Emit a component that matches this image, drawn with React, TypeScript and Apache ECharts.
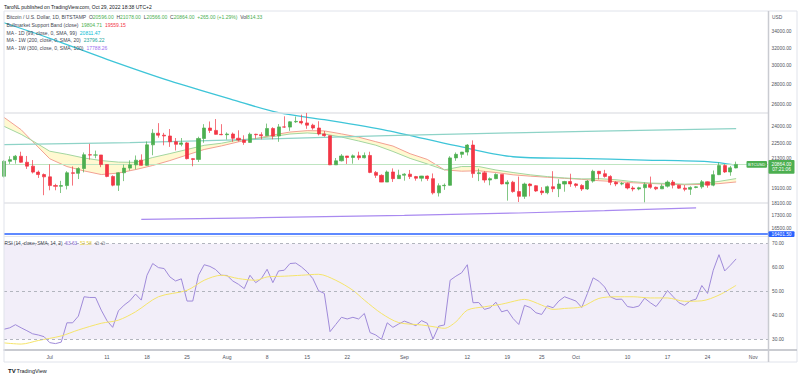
import React, { useEffect, useRef } from 'react';
import * as echarts from 'echarts';

// ---------------- data (day index 0 = Jun 23, 2022) ----------------
const opens = [19970,21100,21230,21500,21030,20730,20280,20100,19930,19300,19250,19300,20230,20190,20550,21620,21590,21600,20850,19960,19330,20230,20580,20830,21190,20790,22420,23400,23230,23160,22680,22460,22580,21310,21250,22950,23850,23640,23300,23270,23330,22970,22820,22620,23310,23270,23180,23810,23160,23950,23930,24400,24440,24300,24100,23850,23340,23190,20830,21140,21520,21400,21530,21380,21560,20260,20040,19550,20290,19800,20050,20130,19950,19830,19990,19800,18790,19290,19320,21370,21650,21830,22400,20170,20230,19700,19800,20110,19420,19540,18880,18550,19410,19290,18920,18800,19220,19080,19410,19590,19420,19310,19060,19620,20340,20160,19960,19530,19420,19440,19130,19060,19150,19380,19180,19070,19260,19550,19330,19120,19040,19170,19210,19570,19330,20090,20770,20290,20596];
const highs = [21200,21500,21600,21860,21520,21200,20400,20180,20870,19430,19640,20350,20710,20650,21800,22500,21950,21600,20860,20040,20270,20850,21180,21560,21650,22700,23750,24280,23430,23760,22990,22990,22650,21350,23100,24190,24430,24650,24190,23470,23460,23650,23220,23450,23350,23480,24240,23920,24200,24900,24450,24880,25050,25210,24230,24450,23590,23200,21360,21670,21520,21640,21860,21800,21860,20360,20120,20400,20560,20460,20200,20440,20000,20000,20030,20180,19460,19450,21500,21800,21840,22480,22790,20540,20350,19890,20190,20110,19690,19640,19950,19510,19460,19330,19190,19300,20350,19760,19640,20160,19480,19400,19700,20460,20370,20450,20050,19610,19550,19520,19260,19220,19520,19950,19230,19400,19670,19700,19360,19340,19250,19250,19700,19600,20400,21020,20880,20750,21078];
const lows = [19880,20900,20920,20990,20520,20180,19850,18630,18970,18970,18780,19030,19300,19770,20260,21230,21340,20650,19900,19250,18920,19620,20400,20480,20760,20760,21580,23020,22380,22250,21960,22300,21250,20720,21050,22590,23420,23440,23230,22860,22670,22690,22420,22600,22930,22880,23160,22880,22670,23860,23600,24300,24160,23780,23700,23210,23100,20810,20830,21090,20900,20920,21200,21330,20200,19850,19600,19550,19560,19800,19650,19770,19650,19600,19640,18680,18540,19000,19300,21140,21370,21560,19860,19620,19510,19320,19760,19380,18260,18800,18170,18380,18550,18860,18640,18690,18840,18500,18870,19210,19160,18920,19000,19510,19740,19870,19330,19260,19320,19030,18900,18970,18150,19080,18980,19060,19160,19100,19070,18900,18650,19110,19080,19150,19250,20060,20220,20010,20566];
const closes = [21100,21230,21500,21030,20730,20280,20100,19930,19300,19250,19300,20230,20190,20550,21620,21590,21600,20850,19960,19330,20230,20580,20830,21190,20790,22420,23400,23230,23160,22680,22460,22580,21310,21250,22950,23850,23640,23300,23270,23330,22970,22820,22620,23310,23270,23180,23810,23160,23950,23930,24400,24440,24300,24100,23850,23340,23190,20830,21140,21520,21400,21530,21380,21560,20260,20040,19550,20290,19800,20050,20130,19950,19830,19990,19800,18790,19290,19320,21370,21650,21830,22400,20170,20230,19700,19800,20110,19420,19540,18880,18550,19410,19290,18920,18800,19220,19080,19410,19590,19420,19310,19060,19620,20340,20160,19960,19530,19420,19440,19130,19060,19150,19380,19180,19070,19260,19550,19330,19120,19040,19170,19210,19570,19330,20090,20770,20290,20600,20864];

const xTickDays = [8, 18, 25, 32, 39, 46, 53, 60, 70, 81, 88, 94, 100, 109, 116, 123, 131];
const xTickLabels = ['Jul', '11', '18', '25', 'Aug', '8', '15', '22', 'Sep', '12', '19', '25', 'Oct', '10', '17', '24', 'Nov'];

const priceTicks = [34000, 32000, 30000, 28000, 26000, 24000, 22500, 21300, 19100, 18100, 17300, 16500];
const rsiTicks = [30, 40, 50, 60, 70];

const bmsbDays = [0,3,5,8,11,14,17,20,23,26,29,32,35,38,41,44,47,50,53,56,59,62,65,68,71,74,77,80,83,86,89,92,95,98,101,104,107,110,113,116,119,122,125,128];
const bmsbSma = [24800,23700,22700,21300,20700,20370,20100,20210,20470,20780,21160,21600,22040,22330,22670,22930,23240,23500,23620,23600,23340,23060,22680,22320,21700,21250,20450,20350,20380,20250,20080,19980,19900,19820,19750,19650,19580,19500,19450,19400,19360,19380,19440,19559.15];
const bmsbEma = [24000,23300,22750,21900,21650,21360,21160,21040,21020,21400,21710,22040,22380,22550,22830,22950,23110,23330,23420,23330,23070,22740,22390,21880,21330,20900,20450,20700,20700,20440,20250,20080,19950,19850,19780,19800,19720,19580,19480,19450,19400,19450,19600,19804.71];

const ma99Days = [0, 8, 18, 29, 40, 48, 56, 67, 79, 89, 100, 112, 123, 128];
const ma99Values = [35120, 33170, 30700, 28360, 26460, 25230, 24590, 23630, 22350, 21460, 21330, 21200, 21080, 20811.47];

const ma200wDays = [0, 22, 45, 67, 89, 104, 128];
const ma200wValues = [22430, 22610, 22890, 23200, 23430, 23580, 23796.22];

const ma300wDays = [24, 45, 70, 90, 105, 121];
const ma300wValues = [17050, 17150, 17300, 17450, 17600, 17788.26];

const rsiValues = [34.2,34.8,36.1,34.8,33.6,32.3,31.8,31.1,28.6,28.2,28.8,36.9,36.9,39.7,47.8,47.5,47.5,42.2,37.8,35.0,41.9,44.3,46.1,48.9,46.4,56.8,61.7,60.0,59.6,56.1,54.4,55.3,46.0,46.0,56.8,61.2,60.5,59.2,56.8,56.7,54.4,53.0,51.2,56.8,53.7,55.4,59.3,53.7,58.6,58.9,61.7,61.9,60.3,58.2,55.4,50.3,49.2,33.2,36.2,39.2,38.5,39.2,38.5,40.8,32.8,31.8,30.0,36.9,35.0,36.4,37.6,36.7,35.7,37.8,36.7,30.1,35.5,36.0,54.7,56.4,57.8,61.2,45.3,45.4,42.5,43.2,45.5,41.5,42.2,38.7,36.2,44.2,43.3,41.1,40.4,44.0,43.2,46.0,47.8,46.9,46.0,43.3,49.2,55.7,54.3,51.9,47.8,46.7,46.8,43.7,43.3,43.9,47.2,45.3,43.7,46.8,50.4,47.8,45.3,44.2,46.1,46.8,52.5,49.2,58.9,65.4,58.6,61.0,63.63];
const rsiMaDays = [0,3,6,10,13,17,20,23,27,32,35,38,41,44,46,49,52,55,58,61,63,66,69,73,75,77,79,81,84,87,90,91,94,96,98,101,104,107,110,113,116,119,122,125,128];
const rsiMaValues = [28.5,28.0,29.5,31.4,33.9,36.7,38.0,41.5,47.8,50.5,54.7,56.8,55.4,54.7,56.1,56.4,56.8,57.2,54.7,50.5,46.4,40.8,37.0,36.0,35.3,34.6,37.3,42.2,43.6,44.7,46.4,46.7,44.3,42.5,42.9,43.6,47.1,47.8,47.8,47.3,47.3,45.9,46.1,48.5,52.58];

const lastPrice = 20864;
const blueLevel = 16150; // position of the blue horizontal line as drawn
const blueLabel = '16401.50';
const grayLevels = [25211, 18150];

// ---------------- styles ----------------
const UP = '#4caf50';
const DOWN = '#f23645';
const FONT = '"Liberation Sans", Arial, sans-serif';
const TXT = '#131722';
const AX = '#50535e';

const X_MIN = 0;
const X_MAX = 133.57;

function pairs(days: number[], vals: number[]) {
  return days.map((d, k) => [d, vals[k]]);
}

function text(x: number, y: number, t: string, fill: string, size: number, align = 'left', extra: any = {}) {
  return {
    type: 'text', x, y, z: 102, silent: true,
    style: { text: t, fill, fontSize: size, fontFamily: FONT, align, verticalAlign: 'middle', ...extra },
  };
}

function rich(x: number, y: number, t: string, styles: Record<string, string>, size: number) {
  const r: any = {};
  Object.keys(styles).forEach((k) => { r[k] = { fill: styles[k], fontSize: size, fontFamily: FONT }; });
  return {
    type: 'text', x, y, z: 102, silent: true,
    style: { text: t, rich: r, fontSize: size, fontFamily: FONT, verticalAlign: 'middle', align: 'left' },
  };
}

function line(x1: number, y1: number, x2: number, y2: number, stroke: string, w = 1) {
  return { type: 'line', z: 90, silent: true, shape: { x1, y1, x2, y2 }, style: { stroke, lineWidth: w } };
}

export default function App() {
  const ref = useRef<HTMLDivElement>(null);
  useEffect(() => {
    const chart = echarts.init(ref.current!, null, { renderer: 'svg' });
    const option: any = {
      animation: false,
      backgroundColor: '#ffffff',
      grid: [
        { left: 4, top: 11, width: 764, height: 224 },
        { left: 4, top: 236, width: 764, height: 114 },
      ],
      xAxis: [
        { type: 'value', gridIndex: 0, min: X_MIN, max: X_MAX, show: false },
        {
          type: 'value', gridIndex: 1, min: X_MIN, max: X_MAX,
          axisLine: { show: true, lineStyle: { color: '#b8bbc2', width: 1.5 } },
          axisTick: { show: false }, splitLine: { show: false },
          axisLabel: {
            customValues: xTickDays,
            formatter: (v: number) => { const k = xTickDays.indexOf(Math.round(v)); return k >= 0 ? xTickLabels[k] : ''; },
            color: AX, fontSize: 5, fontFamily: FONT, margin: 4,
          },
        },
      ],
      yAxis: [
        { type: 'log', gridIndex: 0, min: 16094, max: 36671, show: false },
        {
          type: 'value', gridIndex: 1, min: 25.52, max: 73.22, position: 'right',
          axisLine: { show: false }, axisTick: { show: false }, splitLine: { show: false },
          axisLabel: {
            customValues: rsiTicks, formatter: (v: number) => v.toFixed(2),
            color: AX, fontSize: 4.8, fontFamily: FONT, margin: 4,
          },
        },
      ],
      series: [
        {
          type: 'custom', xAxisIndex: 0, yAxisIndex: 0, z: 1, silent: true,
          data: [[bmsbDays[0], bmsbSma[0]]],
          renderItem: (_p: any, api: any) => {
            const top = bmsbDays.map((d, k) => api.coord([d, bmsbSma[k]]));
            const bot = bmsbDays.map((d, k) => api.coord([d, bmsbEma[k]])).reverse();
            return { type: 'polygon', shape: { points: top.concat(bot) }, style: { fill: 'rgba(255,232,90,0.28)' } };
          },
          markLine: {
            silent: true, symbol: 'none', label: { show: false },
            data: [
              { yAxis: grayLevels[0], lineStyle: { color: '#e3e4e8', width: 1.5, type: 'solid' } },
              { yAxis: grayLevels[1], lineStyle: { color: '#e3e4e8', width: 1.5, type: 'solid' } },
              { yAxis: lastPrice, lineStyle: { color: '#bfe5c1', width: 1, type: 'solid' } },
            ],
          },
        },
        { type: 'line', xAxisIndex: 0, yAxisIndex: 0, z: 2, symbol: 'none', silent: true, data: pairs(bmsbDays, bmsbSma), lineStyle: { color: '#f2a093', width: 1 } },
        { type: 'line', xAxisIndex: 0, yAxisIndex: 0, z: 2, symbol: 'none', silent: true, data: pairs(bmsbDays, bmsbEma), lineStyle: { color: '#a3d6a0', width: 1 } },
        { type: 'line', xAxisIndex: 0, yAxisIndex: 0, z: 3, symbol: 'none', silent: true, data: pairs(ma99Days, ma99Values), smooth: 0.3, lineStyle: { color: '#3ec5d8', width: 1.3 } },
        { type: 'line', xAxisIndex: 0, yAxisIndex: 0, z: 3, symbol: 'none', silent: true, data: pairs(ma200wDays, ma200wValues), lineStyle: { color: '#8ed3c7', width: 1.2 } },
        { type: 'line', xAxisIndex: 0, yAxisIndex: 0, z: 3, symbol: 'none', silent: true, data: pairs(ma300wDays, ma300wValues), lineStyle: { color: '#a98af0', width: 1.2 } },
        {
          type: 'candlestick', xAxisIndex: 0, yAxisIndex: 0, z: 5, silent: true,
          dimensions: ['day', 'open', 'close', 'lowest', 'highest'],
          encode: { x: 0, y: [1, 2, 3, 4] },
          data: opens.map((o, i) => [i, o, closes[i], lows[i], highs[i]]),
          barWidth: 3.6,
          itemStyle: { color: UP, color0: DOWN, borderColor: UP, borderColor0: DOWN, borderWidth: 0.7 },
          markLine: {
            silent: true, symbol: 'none', label: { show: false },
            data: [{ yAxis: blueLevel, lineStyle: { color: '#2962ff', width: 1.5, type: 'solid' } }],
          },
        },
        {
          type: 'line', xAxisIndex: 1, yAxisIndex: 1, z: 3, symbol: 'none', silent: true,
          data: rsiValues.map((v, i) => [i, v]),
          lineStyle: { color: '#9f8ad9', width: 1 },
          markArea: { silent: true, itemStyle: { color: 'rgba(126,87,194,0.1)' }, data: [[{ yAxis: 30 }, { yAxis: 70 }]] },
          markLine: {
            silent: true, symbol: 'none', label: { show: false },
            lineStyle: { type: [3, 3], color: '#b2b5be', width: 1 },
            data: [{ yAxis: 70 }, { yAxis: 50 }, { yAxis: 30 }],
          },
        },
        {
          type: 'line', xAxisIndex: 1, yAxisIndex: 1, z: 3, symbol: 'none', silent: true,
          data: pairs(rsiMaDays, rsiMaValues), smooth: 0.3,
          lineStyle: { color: '#f5e46a', width: 1 },
        },
      ],
    };
    chart.setOption(option);

    const py = (v: number) => (chart.convertToPixel({ gridIndex: 0 }, [0, v]) as number[])[1];
    const els: any[] = [];
    // frame
    els.push(line(4, 11, 797, 11, '#e0e3eb'));
    els.push(line(4, 11, 4, 362, '#e0e3eb'));
    els.push(line(797, 11, 797, 362, '#e0e3eb'));
    els.push(line(4, 362, 797, 362, '#e0e3eb'));
    els.push(line(4, 236.5, 768, 236.5, '#e6e7ea'));
    els.push(line(768, 350, 797, 350, '#b8bbc2', 1.5));
    els.push(line(768.5, 11, 768.5, 362, '#c9cbd1', 1.5));

    // header + legends
    els.push(text(4, 6.5, 'TaroNL published on TradingView.com, Oct 29, 2022 18:38 UTC+2', TXT, 5));
    els.push(rich(6.5, 17.3,
      '{d|Bitcoin / U.S. Dollar, 1D, BITSTAMP}  {d|O}{g|20596.00}  {d|H}{g|21078.00}  {d|L}{g|20566.00}  {d|C}{g|20864.00}  {g|+265.00 (+1.29%)}  {d|Vol}{g|814.33}',
      { d: '#434651', g: UP }, 5));
    els.push(rich(6.5, 24.9, '{d|Bullmarket Support Band (close)}  {g|19804.71}  {r|19559.15}', { d: '#434651', g: '#4caf50', r: '#f23645' }, 5));
    els.push(rich(6.5, 32.5, '{d|MA - 1D (99, close, 0, SMA, 99)}  {c|20811.47}', { d: '#434651', c: '#00bcd4' }, 5));
    els.push(rich(6.5, 40.1, '{d|MA - 1W (200, close, 0, SMA, 20)}  {c|23796.22}', { d: '#434651', c: '#26a69a' }, 5));
    els.push(rich(6.5, 47.7, '{d|MA - 1W (300, close, 0, SMA, 100)}  {c|17788.26}', { d: '#434651', c: '#9c6ff0' }, 5));
    els.push(rich(4.5, 243.7, '{d|RSI (14, close, SMA, 14, 2)}  {p|63.63}  {y|52.58}  {d|∅}  {d|∅}', { d: '#434651', p: '#8c6fd8', y: '#e8d23a' }, 4.8));

    // price axis labels
    els.push(text(772, 17.3, 'USD', AX, 4.8));
    priceTicks.forEach((p) => { els.push(text(771.5, py(p), p.toFixed(2), AX, 4.8)); });

    // last price boxes
    const yl = py(lastPrice);
    els.push({ type: 'rect', z: 101, silent: true, shape: { x: 768.5, y: yl - 4.3, width: 26, height: 13.6, r: 1 }, style: { fill: UP } });
    els.push(text(781.5, yl - 0.3, '20864.00', '#ffffff', 4.8, 'center'));
    els.push(text(781.5, yl + 5.4, '07:21:06', '#ffffff', 4.8, 'center'));
    els.push({ type: 'rect', z: 101, silent: true, shape: { x: 746.5, y: yl - 3.3, width: 20.5, height: 6.6, r: 1 }, style: { fill: UP } });
    els.push(text(756.7, yl, 'BTCUSD', '#ffffff', 4.2, 'center'));
    const yb = py(blueLevel);
    els.push({ type: 'rect', z: 101, silent: true, shape: { x: 768.5, y: yb - 2.9, width: 26, height: 5.8, r: 1 }, style: { fill: '#2962ff' } });
    els.push(text(781.5, yb, blueLabel, '#ffffff', 4.8, 'center'));

    // footer logo
    els.push(text(8, 371, 'TV', TXT, 6, 'left', { fontWeight: 'bold' }));
    els.push(text(16.5, 371, 'TradingView', TXT, 5.5));

    chart.setOption({ graphic: { elements: els } });

    return () => chart.dispose();
  }, []);
  return <div ref={ref} style={{ position: 'fixed', left: 0, top: 0, width: 800, height: 378 }} />;
}
